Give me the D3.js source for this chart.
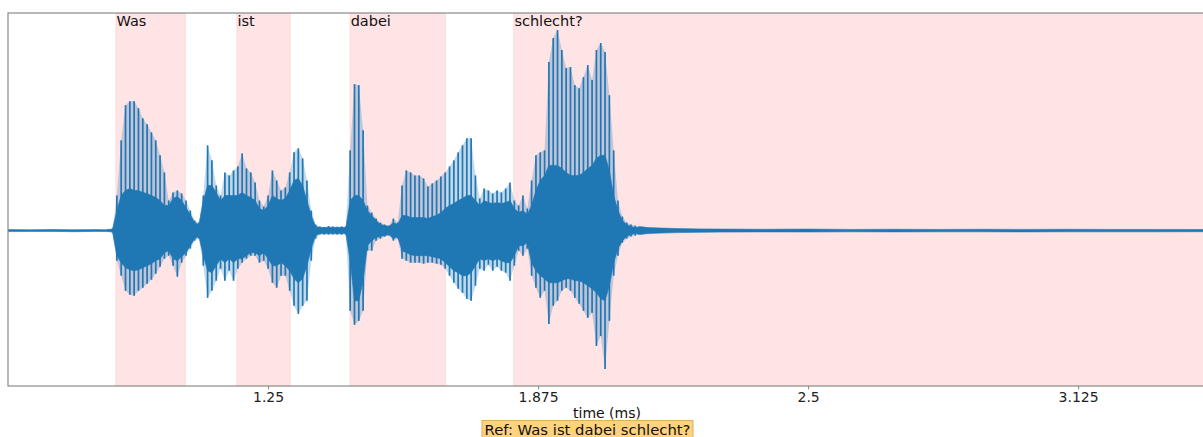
<!DOCTYPE html>
<html>
<head>
<meta charset="utf-8">
<script src="https://cdn.jsdelivr.net/npm/d3@7"></script>
<style>
body { margin: 0; background: #fff; }
text { font-family: "DejaVu Sans", sans-serif; }
</style>
</head>
<body>
<script>
var W = 1203, H = 437;

// words of the reference and where they sit (seconds on the axis)
var words = ["Was", "ist", "dabei", "schlecht?"];
var wordStart = [0.898, 1.178, 1.440, 1.819];
var wordEnd = [1.058, 1.301, 1.660, 3.60];

var tickVals = [1.25, 1.875, 2.5, 3.125];
var tickLabels = ["1.25", "1.875", "2.5", "3.125"];
var timeDomain = [0.648, 3.421];

// waveform envelope, one reading every 10 ms from 0.88 on
var envStart = 0.88, envStep = 0.01;
var outerHi = [100,200,3500,9000,12500,12900,12900,12200,11200,10600,
  9800,9000,7500,5800,3000,3800,4000,3700,3000,2000,
  1000,800,3500,8500,7000,4500,3500,5800,5500,6000,
  6400,7700,6200,5800,4800,3000,2400,3500,6000,5000,
  4000,4300,5800,7800,8200,7200,5000,2000,600,400,
  350,450,400,380,420,400,8000,14600,14500,10000,
  2500,1800,1200,800,600,500,1200,800,4500,6000,
  5800,5500,5500,5200,4400,4700,5000,5400,5800,6400,
  7000,7800,8500,9200,9200,5500,3200,4200,4000,3700,
  4000,3800,4200,4800,3000,2500,3500,2200,5000,7500,
  7800,8000,16800,19200,20000,18000,16200,16300,14500,14200,
  15300,16500,15000,18000,18700,17800,13500,8000,3000,1400,
  800,600,500];
var innerHi = [100,150,2000,3500,4000,4200,4000,4000,3800,3700,
  3500,3300,3000,2500,2500,3200,3400,3000,2300,1600,
  800,600,3000,4500,4500,3800,3000,3500,3500,3500,
  3500,3800,3500,3300,3000,2200,2000,2500,3500,3200,
  3000,3200,4000,5000,5200,4500,3000,1500,400,300,
  300,300,300,300,300,300,3000,3500,3500,3000,
  2000,1500,1000,600,500,400,800,600,1500,1500,
  1300,1300,1300,1300,1200,1400,1500,1800,2200,2500,
  2700,3000,3200,3500,3500,3000,2500,3000,2800,2700,
  2800,2700,2800,3000,2200,1800,2000,1600,2500,4000,
  5000,5500,6500,6500,6500,6200,5800,5500,5500,5500,
  5800,6200,6500,7200,7500,7500,6000,3500,2000,1000,
  600,400,300];
var innerLo = [-100,-150,-2500,-3200,-3700,-3900,-4000,-3900,-3700,-3500,
  -3300,-3000,-2800,-2200,-2000,-2800,-3000,-2600,-2200,-1500,
  -800,-600,-2500,-4000,-4200,-3500,-2800,-3200,-2800,-3200,
  -2800,-2800,-2500,-2200,-2200,-2500,-2200,-2800,-3500,-3500,
  -3200,-3500,-4000,-4800,-5200,-4800,-3500,-1800,-500,-300,
  -300,-300,-300,-300,-300,-300,-3000,-7000,-7000,-5000,
  -1500,-1000,-700,-600,-500,-400,-800,-600,-2000,-2200,
  -2400,-2500,-2500,-2500,-2500,-2600,-2700,-2800,-3200,-3600,
  -4000,-4200,-4500,-4500,-4200,-3500,-2800,-3000,-2800,-3000,
  -2800,-3000,-3200,-3200,-2500,-1500,-1500,-1200,-3200,-4000,
  -4500,-4800,-5200,-5200,-5200,-5000,-4800,-4800,-5000,-5000,
  -5200,-5500,-5800,-6200,-6800,-7000,-5500,-3200,-1800,-1000,
  -600,-400,-300];
var outerLo = [-100,-200,-3000,-4500,-6000,-6400,-6500,-6000,-5700,-5300,
  -4900,-4300,-3600,-2800,-2500,-3500,-4600,-3200,-2500,-1800,
  -1000,-800,-3500,-6700,-6000,-5000,-3800,-5000,-4000,-5000,
  -3800,-3200,-2800,-2500,-2500,-3200,-3000,-3800,-5200,-5700,
  -4500,-4500,-6000,-7500,-8300,-7500,-7000,-3000,-800,-400,
  -400,-400,-400,-400,-400,-400,-8000,-9400,-9000,-8000,
  -2000,-2000,-1000,-800,-600,-500,-1000,-800,-2800,-3000,
  -3200,-3200,-3200,-3300,-3200,-3200,-3300,-3400,-3800,-4500,
  -5200,-5800,-6200,-6800,-7000,-5500,-3800,-4000,-3400,-4000,
  -3600,-4000,-4200,-5000,-3500,-2000,-2500,-1800,-4500,-5700,
  -6700,-6000,-9300,-7500,-7000,-6000,-5700,-6000,-6700,-7300,
  -8000,-8700,-8200,-11500,-10500,-13800,-9000,-4500,-2500,-1200,
  -800,-600,-500];

// background noise before and after the speech
var preT = [0.648, 0.70, 0.75, 0.80, 0.85, 0.87];
var preHi = [100, 80, 110, 80, 100, 90];
var preLo = [-100, -90, -80, -110, -80, -90];
var tailT = [2.11, 2.13, 2.16, 2.20, 2.25, 2.30, 2.40, 2.50, 2.60, 2.70, 2.80, 2.90, 3.00, 3.10, 3.20, 3.30, 3.42];
var tailHi = [400, 300, 250, 200, 170, 150, 130, 150, 120, 130, 120, 130, 120, 130, 120, 120, 110];
var tailLo = [-400, -300, -250, -200, -170, -150, -130, -140, -120, -130, -120, -120, -130, -120, -120, -120, -110];

var envT = outerHi.map(function(d, i) { return envStart + i * envStep; });

var band = [];
preT.forEach(function(t, i) { band.push({t: t, hi: preHi[i], lo: preLo[i]}); });
envT.forEach(function(t, i) { band.push({t: t, hi: innerHi[i], lo: innerLo[i]}); });
tailT.forEach(function(t, i) { band.push({t: t, hi: tailHi[i], lo: tailLo[i]}); });

var spikes = envT.map(function(t, i) { return {t: t, hi: outerHi[i], lo: outerLo[i]}; });

var plotL = 8, plotR = 1206, plotT = 13, plotB = 386;

var x = d3.scaleLinear().domain(timeDomain).range([plotL, plotR]);

// like matplotlib: data extent with 5% margin
var yMax = d3.max(outerHi), yMin = d3.min(outerLo);
var pad = (yMax - yMin) * 0.05;
var y = d3.scaleLinear().domain([yMin - pad, yMax + pad]).range([plotB, plotT]);

var svg = d3.select("body").append("svg")
  .attr("width", W).attr("height", H);

svg.append("defs").append("clipPath").attr("id", "plot")
  .append("rect").attr("x", plotL).attr("y", plotT)
  .attr("width", plotR - plotL).attr("height", plotB - plotT);

var plot = svg.append("g").attr("clip-path", "url(#plot)");

// word spans
plot.selectAll("rect.span")
  .data(words)
  .enter()
  .append("rect")
  .attr("class", "span")
  .attr("x", function(d, i) { return x(wordStart[i]); })
  .attr("y", plotT)
  .attr("width", function(d, i) { return x(wordEnd[i]) - x(wordStart[i]); })
  .attr("height", plotB - plotT)
  .style("fill", "#ffe4e5")
  .style("stroke", "#ffd6d8")
  .style("stroke-width", 1);

var blue = "#1f77b4";

var area = d3.area()
  .x(function(d) { return x(d.t); })
  .y0(function(d) { return y(d.lo); })
  .y1(function(d) { return y(d.hi); });

// faint hull of the pitch pulses, they sit too close to separate
plot.append("path")
  .datum(spikes)
  .attr("d", area)
  .style("fill", blue)
  .style("fill-opacity", 0.28)
  .style("stroke", "none");

plot.selectAll("line.spike")
  .data(spikes)
  .enter()
  .append("line")
  .attr("class", "spike")
  .attr("x1", function(d) { return x(d.t); })
  .attr("x2", function(d) { return x(d.t); })
  .attr("y1", function(d) { return y(d.lo); })
  .attr("y2", function(d) { return y(d.hi); })
  .style("stroke", blue)
  .style("stroke-width", 1.7);

plot.append("path")
  .datum(band)
  .attr("d", area)
  .style("fill", blue)
  .style("stroke", blue)
  .style("stroke-width", 0.6);

// word labels
plot.selectAll("text.word")
  .data(words)
  .enter()
  .append("text")
  .attr("class", "word")
  .attr("x", function(d, i) { return x(wordStart[i]) + 0.5; })
  .attr("y", 26)
  .style("font-size", "14.5px")
  .style("fill", "#111")
  .text(function(d) { return d; });

// frame
svg.append("rect")
  .attr("x", plotL).attr("y", plotT)
  .attr("width", plotR - plotL).attr("height", plotB - plotT)
  .style("fill", "none")
  .style("stroke", "#8a8a8a")
  .style("stroke-width", 1.2);

var axis = svg.append("g")
  .attr("transform", "translate(0," + plotB + ")")
  .call(d3.axisBottom(x)
    .tickValues(tickVals)
    .tickFormat(function(d, i) { return tickLabels[i]; })
    .tickSize(3.5)
    .tickPadding(2.5));
axis.select(".domain").remove();
axis.selectAll(".tick line").style("stroke", "#8a8a8a");
axis.selectAll(".tick text")
  .style("font-family", "DejaVu Sans, sans-serif")
  .style("font-size", "14px")
  .style("fill", "#222");

svg.append("text")
  .attr("x", (plotL + plotR) / 2)
  .attr("y", 418)
  .attr("text-anchor", "middle")
  .style("font-size", "14px")
  .style("fill", "#111")
  .text("time (ms)");

// reference box
svg.append("rect")
  .attr("x", 482).attr("y", 420.5)
  .attr("width", 211).attr("height", 24)
  .style("fill", "#ffd27f")
  .style("stroke", "#dcae62")
  .style("stroke-width", 1);

svg.append("text")
  .attr("x", 587.5)
  .attr("y", 434.5)
  .attr("text-anchor", "middle")
  .style("font-size", "14.8px")
  .style("fill", "#111")
  .text("Ref: Was ist dabei schlecht?");
</script>
</body>
</html>
